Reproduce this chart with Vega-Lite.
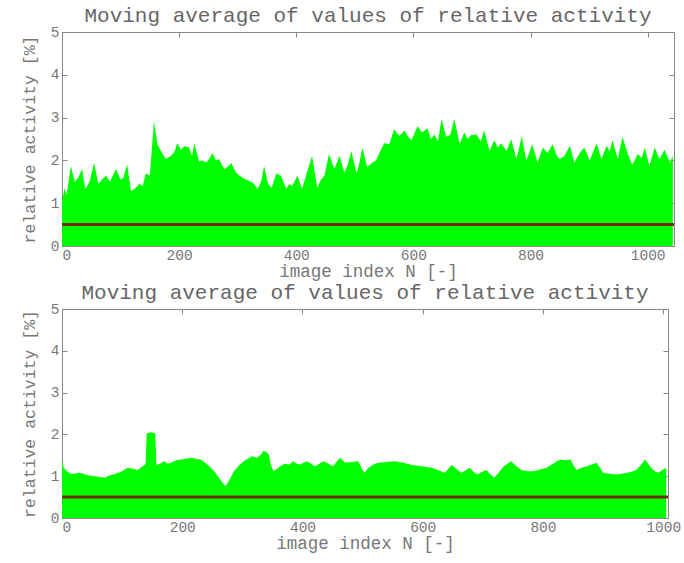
{
  "$schema": "https://vega.github.io/schema/vega-lite/v6.json",
  "background": "white",
  "padding": {"left": 20, "top": 4, "right": 4, "bottom": 2},
  "config": {
    "font": "Liberation Mono",
    "view": {"stroke": "#888", "strokeWidth": 1},
    "axis": {
      "labelFont": "Liberation Mono", "titleFont": "Liberation Mono",
      "labelColor": "#777", "titleColor": "#777",
      "domainColor": "#888", "tickColor": "#888",
      "grid": false, "labelFontSize": 14.5, "titleFontSize": 17.5,
      "titleFontWeight": "normal", "tickSize": -5, "labelPadding": 8, "format": "d"
    },
    "title": {"font": "Liberation Mono", "fontSize": 21, "fontWeight": "normal", "color": "#666"},
    "concat": {"spacing": 0}
  },
  "datasets": {
    "top": [
      {"x":0,"v":1.0},{"x":4,"v":1.35},{"x":8,"v":1.2},{"x":15,"v":1.87},{"x":22,"v":1.5},{"x":28,"v":1.6},{"x":34,"v":1.8},{"x":40,"v":1.33},{"x":47,"v":1.5},{"x":55,"v":1.94},{"x":62,"v":1.45},{"x":68,"v":1.55},{"x":75,"v":1.64},{"x":82,"v":1.5},{"x":92,"v":1.8},{"x":100,"v":1.55},{"x":105,"v":1.6},{"x":111,"v":1.91},{"x":118,"v":1.28},{"x":125,"v":1.35},{"x":132,"v":1.45},{"x":138,"v":1.4},{"x":143,"v":1.7},{"x":150,"v":1.65},{"x":157,"v":2.92},{"x":163,"v":2.38},{"x":169,"v":2.22},{"x":177,"v":2.03},{"x":186,"v":2.1},{"x":192,"v":2.2},{"x":197,"v":2.4},{"x":203,"v":2.25},{"x":209,"v":2.33},{"x":217,"v":2.3},{"x":222,"v":2.1},{"x":226,"v":2.4},{"x":234,"v":1.98},{"x":240,"v":2.0},{"x":246,"v":1.95},{"x":252,"v":2.05},{"x":257,"v":2.17},{"x":263,"v":2.0},{"x":268,"v":2.03},{"x":277,"v":1.8},{"x":283,"v":1.85},{"x":289,"v":1.94},{"x":297,"v":1.72},{"x":303,"v":1.65},{"x":308,"v":1.6},{"x":315,"v":1.55},{"x":323,"v":1.5},{"x":328,"v":1.45},{"x":334,"v":1.33},{"x":340,"v":1.5},{"x":345,"v":1.87},{"x":352,"v":1.45},{"x":358,"v":1.36},{"x":366,"v":1.7},{"x":374,"v":1.64},{"x":383,"v":1.33},{"x":388,"v":1.45},{"x":393,"v":1.4},{"x":402,"v":1.64},{"x":410,"v":1.33},{"x":419,"v":1.75},{"x":427,"v":2.1},{"x":436,"v":1.36},{"x":442,"v":1.55},{"x":448,"v":1.64},{"x":456,"v":2.15},{"x":465,"v":1.8},{"x":474,"v":2.1},{"x":482,"v":1.72},{"x":488,"v":1.9},{"x":494,"v":2.22},{"x":503,"v":1.7},{"x":508,"v":1.95},{"x":513,"v":2.3},{"x":521,"v":1.84},{"x":530,"v":1.95},{"x":536,"v":2.0},{"x":542,"v":2.17},{"x":550,"v":2.4},{"x":559,"v":2.38},{"x":567,"v":2.73},{"x":576,"v":2.57},{"x":585,"v":2.7},{"x":591,"v":2.55},{"x":597,"v":2.47},{"x":607,"v":2.8},{"x":615,"v":2.65},{"x":624,"v":2.75},{"x":630,"v":2.5},{"x":636,"v":2.6},{"x":642,"v":2.45},{"x":648,"v":2.97},{"x":656,"v":2.55},{"x":663,"v":2.6},{"x":670,"v":2.97},{"x":679,"v":2.38},{"x":687,"v":2.65},{"x":693,"v":2.5},{"x":699,"v":2.6},{"x":708,"v":2.6},{"x":715,"v":2.45},{"x":721,"v":2.7},{"x":730,"v":2.22},{"x":738,"v":2.47},{"x":744,"v":2.3},{"x":750,"v":2.4},{"x":759,"v":2.22},{"x":767,"v":2.5},{"x":776,"v":2.03},{"x":785,"v":2.55},{"x":793,"v":2.0},{"x":803,"v":2.38},{"x":812,"v":1.95},{"x":821,"v":2.3},{"x":829,"v":2.17},{"x":838,"v":2.38},{"x":845,"v":2.1},{"x":850,"v":2.03},{"x":858,"v":2.1},{"x":867,"v":2.34},{"x":875,"v":1.95},{"x":884,"v":2.17},{"x":892,"v":2.3},{"x":901,"v":2.0},{"x":907,"v":2.2},{"x":913,"v":2.4},{"x":921,"v":2.03},{"x":930,"v":2.34},{"x":935,"v":2.2},{"x":940,"v":2.47},{"x":949,"v":2.03},{"x":957,"v":2.55},{"x":966,"v":2.15},{"x":974,"v":1.9},{"x":983,"v":2.15},{"x":990,"v":2.05},{"x":995,"v":2.3},{"x":1003,"v":1.87},{"x":1012,"v":2.3},{"x":1020,"v":2.03},{"x":1029,"v":2.25},{"x":1038,"v":1.95},{"x":1043,"v":2.1}
    ],
    "bottom": [
      {"x":0,"v":1.36},{"x":3,"v":1.2},{"x":8,"v":1.12},{"x":16,"v":1.05},{"x":30,"v":1.08},{"x":43,"v":1.02},{"x":55,"v":1.0},{"x":71,"v":0.96},{"x":80,"v":1.02},{"x":88,"v":1.05},{"x":100,"v":1.12},{"x":109,"v":1.2},{"x":118,"v":1.18},{"x":126,"v":1.15},{"x":137,"v":1.27},{"x":139,"v":1.3},{"x":141,"v":2.03},{"x":148,"v":2.05},{"x":155,"v":2.03},{"x":157,"v":1.27},{"x":163,"v":1.3},{"x":170,"v":1.36},{"x":176,"v":1.3},{"x":181,"v":1.32},{"x":190,"v":1.38},{"x":198,"v":1.4},{"x":206,"v":1.42},{"x":215,"v":1.44},{"x":223,"v":1.42},{"x":231,"v":1.4},{"x":240,"v":1.3},{"x":248,"v":1.2},{"x":255,"v":1.08},{"x":261,"v":0.96},{"x":267,"v":0.85},{"x":272,"v":0.76},{"x":278,"v":0.9},{"x":286,"v":1.12},{"x":294,"v":1.25},{"x":302,"v":1.36},{"x":309,"v":1.42},{"x":316,"v":1.48},{"x":324,"v":1.44},{"x":330,"v":1.5},{"x":335,"v":1.6},{"x":340,"v":1.58},{"x":344,"v":1.52},{"x":348,"v":1.25},{"x":352,"v":1.12},{"x":358,"v":1.18},{"x":363,"v":1.24},{"x":370,"v":1.3},{"x":378,"v":1.28},{"x":385,"v":1.36},{"x":390,"v":1.3},{"x":396,"v":1.28},{"x":402,"v":1.32},{"x":407,"v":1.36},{"x":414,"v":1.3},{"x":421,"v":1.24},{"x":428,"v":1.3},{"x":435,"v":1.36},{"x":443,"v":1.3},{"x":451,"v":1.24},{"x":457,"v":1.35},{"x":463,"v":1.44},{"x":467,"v":1.38},{"x":471,"v":1.32},{"x":482,"v":1.34},{"x":493,"v":1.36},{"x":498,"v":1.2},{"x":503,"v":1.08},{"x":510,"v":1.2},{"x":518,"v":1.28},{"x":526,"v":1.32},{"x":540,"v":1.34},{"x":554,"v":1.36},{"x":568,"v":1.32},{"x":582,"v":1.27},{"x":598,"v":1.24},{"x":615,"v":1.2},{"x":626,"v":1.14},{"x":637,"v":1.08},{"x":648,"v":1.27},{"x":656,"v":1.18},{"x":664,"v":1.08},{"x":672,"v":1.14},{"x":678,"v":1.2},{"x":685,"v":1.1},{"x":691,"v":1.04},{"x":698,"v":1.1},{"x":706,"v":1.15},{"x":712,"v":1.05},{"x":719,"v":0.96},{"x":727,"v":1.1},{"x":735,"v":1.24},{"x":741,"v":1.3},{"x":747,"v":1.36},{"x":755,"v":1.25},{"x":764,"v":1.15},{"x":775,"v":1.12},{"x":785,"v":1.12},{"x":795,"v":1.16},{"x":806,"v":1.2},{"x":817,"v":1.3},{"x":823,"v":1.36},{"x":829,"v":1.4},{"x":838,"v":1.38},{"x":846,"v":1.4},{"x":851,"v":1.25},{"x":856,"v":1.15},{"x":864,"v":1.2},{"x":873,"v":1.24},{"x":881,"v":1.28},{"x":889,"v":1.32},{"x":895,"v":1.2},{"x":900,"v":1.08},{"x":911,"v":1.06},{"x":922,"v":1.04},{"x":931,"v":1.06},{"x":939,"v":1.08},{"x":947,"v":1.1},{"x":955,"v":1.15},{"x":962,"v":1.25},{"x":970,"v":1.4},{"x":975,"v":1.3},{"x":980,"v":1.2},{"x":986,"v":1.12},{"x":992,"v":1.08},{"x":998,"v":1.14},{"x":1005,"v":1.2}
    ],
    "level": [{"level": 0.5}]
  },
  "vconcat": [
    {
      "title": {"text": "Moving average of values of relative activity", "offset": -2},
      "width": 612, "height": 214,
      "layer": [
        {
          "data": {"name": "top"},
          "mark": {"type": "area", "color": "#00ff00", "interpolate": "linear"},
          "encoding": {
            "x": {"field": "x", "type": "quantitative", "scale": {"domain": [0, 1045], "nice": false, "zero": false},
                  "axis": {"values": [0, 200, 400, 600, 800, 1000], "title": "image index N [-]", "titlePadding": 1, "labelPadding": 7}},
            "y": {"field": "v", "type": "quantitative", "scale": {"domain": [0, 5], "nice": false},
                  "axis": {"values": [0, 1, 2, 3, 4, 5], "title": "relative activity [%]", "titleFontSize": 16.5, "titlePadding": 13}}
          }
        },
        {
          "data": {"name": "top"},
          "mark": {"type": "line", "opacity": 0},
          "encoding": {
            "x": {"field": "x", "type": "quantitative", "axis": {"orient": "top", "labels": false, "title": null, "domain": false, "values": [0, 200, 400, 600, 800, 1000]}},
            "y": {"field": "v", "type": "quantitative", "axis": {"orient": "right", "labels": false, "title": null, "domain": false, "values": [0, 1, 2, 3, 4, 5]}}
          }
        },
        {
          "data": {"name": "level"},
          "mark": {"type": "rule", "color": "#6b2e00", "strokeWidth": 3},
          "encoding": {"y": {"field": "level", "type": "quantitative", "axis": null}}
        }
      ],
      "resolve": {"axis": {"x": "independent", "y": "independent"}}
    },
    {
      "title": {"text": "Moving average of values of relative activity", "offset": -2},
      "width": 606, "height": 209,
      "layer": [
        {
          "data": {"name": "bottom"},
          "mark": {"type": "area", "color": "#00ff00", "interpolate": "linear"},
          "encoding": {
            "x": {"field": "x", "type": "quantitative", "scale": {"domain": [0, 1008], "nice": false, "zero": false},
                  "axis": {"values": [0, 200, 400, 600, 800, 1000], "title": "image index N [-]", "titlePadding": 1, "labelPadding": 7}},
            "y": {"field": "v", "type": "quantitative", "scale": {"domain": [0, 5], "nice": false},
                  "axis": {"values": [0, 1, 2, 3, 4, 5], "title": "relative activity [%]", "titleFontSize": 16.5, "titlePadding": 13}}
          }
        },
        {
          "data": {"name": "bottom"},
          "mark": {"type": "line", "opacity": 0},
          "encoding": {
            "x": {"field": "x", "type": "quantitative", "axis": {"orient": "top", "labels": false, "title": null, "domain": false, "values": [0, 200, 400, 600, 800, 1000]}},
            "y": {"field": "v", "type": "quantitative", "axis": {"orient": "right", "labels": false, "title": null, "domain": false, "values": [0, 1, 2, 3, 4, 5]}}
          }
        },
        {
          "data": {"name": "level"},
          "mark": {"type": "rule", "color": "#6b2e00", "strokeWidth": 3},
          "encoding": {"y": {"field": "level", "type": "quantitative", "axis": null}}
        }
      ],
      "resolve": {"axis": {"x": "independent", "y": "independent"}}
    }
  ]
}
